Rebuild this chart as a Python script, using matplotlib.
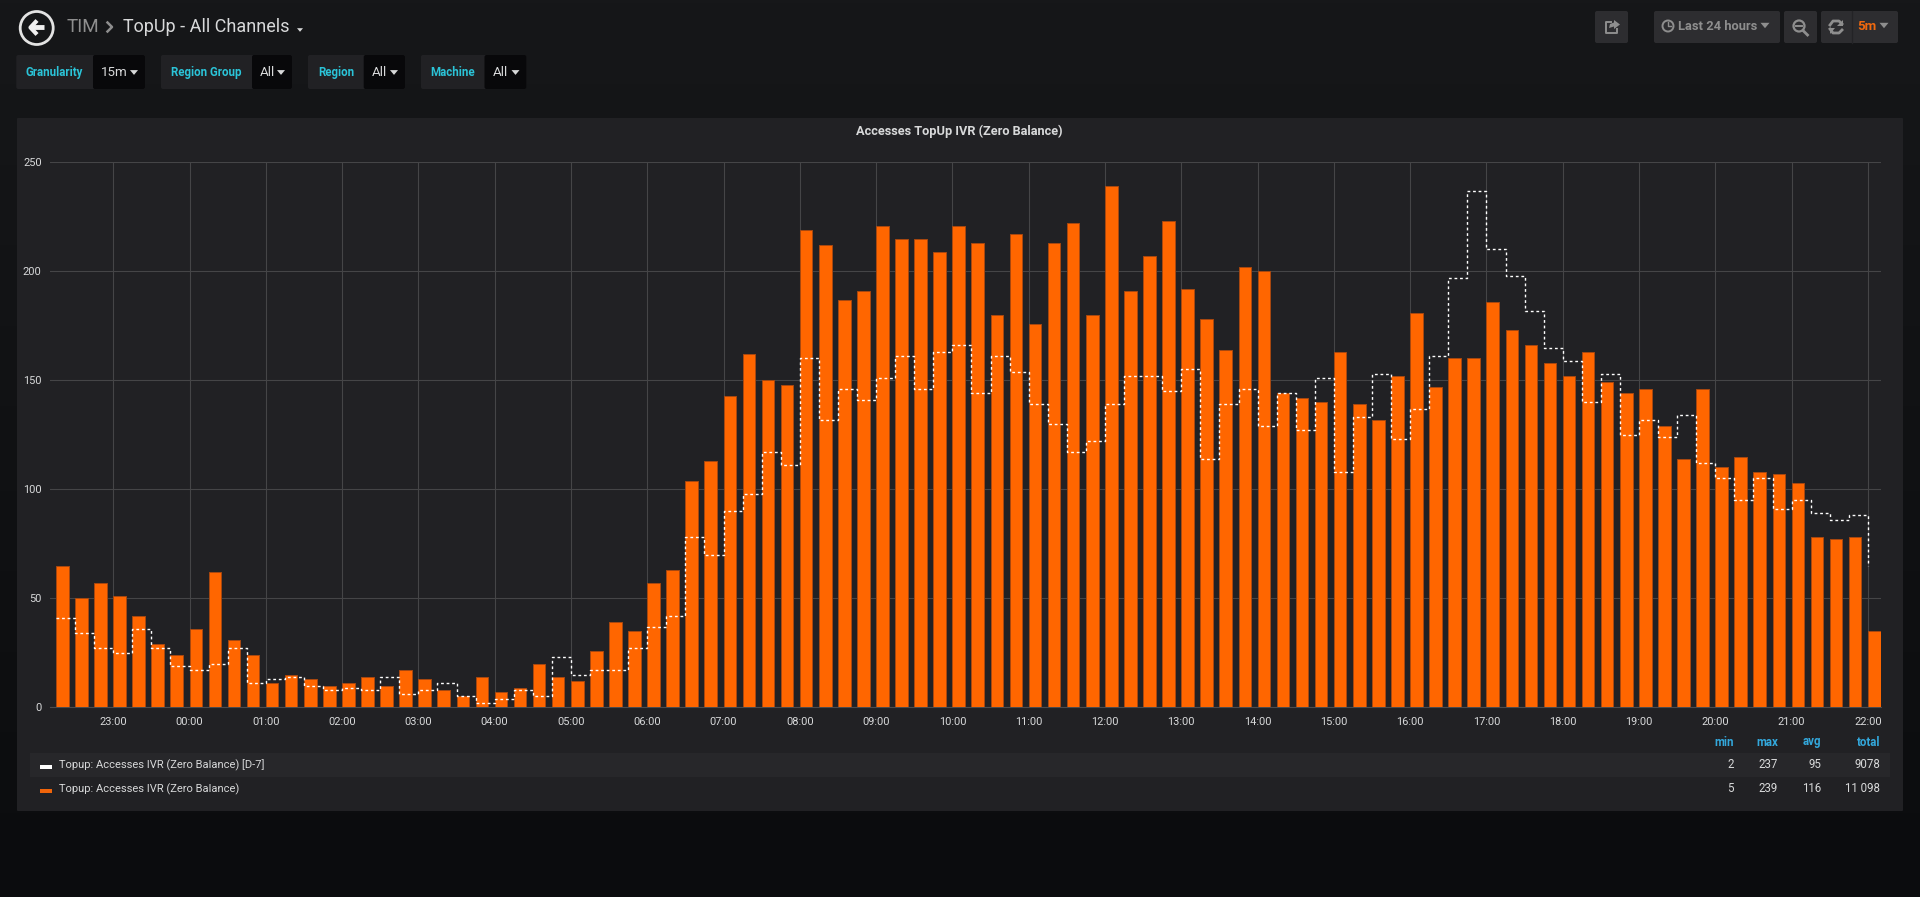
'''
Imports
'''
import numpy as np
import pandas as pd
import matplotlib
matplotlib.use('Agg')
import matplotlib.pyplot as plt
import matplotlib.dates as mdates
from matplotlib.patches import FancyBboxPatch, Polygon, Circle, Rectangle

plt.rcParams['font.family'] = ['Roboto', 'DejaVu Sans']

'''
Chart data, read off the picture (one value every 15 minutes, 22:15 to 22:00)
'''
Current = [65, 50, 57, 51, 42, 29, 24, 36, 62, 31, 24, 11,
	15, 13, 10, 11, 14, 10, 17, 13, 8, 5, 14, 7,
	9, 20, 14, 12, 26, 39, 35, 57, 63, 104, 113, 143,
	162, 150, 148, 219, 212, 187, 191, 221, 215, 215, 209, 221,
	213, 180, 217, 176, 213, 222, 180, 239, 191, 207, 223, 192,
	178, 164, 202, 200, 144, 142, 140, 163, 139, 132, 152, 181,
	147, 160, 160, 186, 173, 166, 158, 152, 163, 149, 144, 146,
	129, 114, 146, 110, 115, 108, 107, 103, 78, 77, 78, 35]
Previous = [41, 34, 27, 25, 36, 27, 19, 17, 20, 27, 11, 13,
	14, 10, 8, 9, 8, 14, 6, 8, 11, 5, 2, 4,
	8, 5, 23, 15, 17, 17, 27, 37, 42, 78, 70, 90,
	98, 117, 111, 160, 132, 146, 141, 151, 161, 146, 163, 166,
	144, 161, 154, 139, 130, 117, 122, 139, 152, 152, 145, 155,
	114, 139, 146, 129, 144, 127, 151, 108, 133, 153, 123, 137,
	161, 197, 237, 210, 198, 182, 165, 159, 140, 153, 125, 132,
	124, 134, 112, 105, 95, 105, 91, 95, 89, 86, 88, 65]
Y_Ticks = [0, 50, 100, 150, 200, 250]
Series_Names = ['Topup: Accesses IVR (Zero Balance) [D-7]', 'Topup: Accesses IVR (Zero Balance)']
Stat_Names = ['min', 'max', 'avg', 'total']
Stat_Rows = [['2', '237', '95', '9078'], ['5', '239', '116', '11 098']]
Variables = [('Granularity', '15m'), ('Region Group', 'All'), ('Region', 'All'), ('Machine', 'All')]

W, H = 1920, 897
Orange = '#ff6600'
Panel = '#212124'
Cyan = '#2bc4d8'
Blue = '#33a8dc'
Light = '#d8d9da'
Gray = '#8e8e8e'
Btn = '#2d2d30'

fig = plt.figure(figsize=(W/100, H/100), dpi=100)

'''
Page background and panel, in pixel coordinates
'''
bg = fig.add_axes([0, 0, 1, 1], zorder=0)
bg.set_xlim(0, W)
bg.set_ylim(H, 0)
bg.axis('off')
Grad = np.linspace(0, 1, 256).reshape(-1, 1)
Top, Bottom = np.array([0x16, 0x17, 0x19])/255, np.array([0x0b, 0x0c, 0x0e])/255
bg.imshow(Top + (Bottom-Top)*Grad[:, :, None], extent=(0, W, H, 0), aspect='auto', zorder=0)

def box(x0, x1, y0, y1, color, ax=bg, z=1, r=2):
	ax.add_patch(FancyBboxPatch((x0, y0), x1-x0, y1-y0, boxstyle='round,pad=0,rounding_size=%g' % r,
		fc=color, ec='none', zorder=z))

def caret(cx, cy, s, color):
	bg.add_patch(Polygon([(cx-s, cy-s*0.6), (cx+s, cy-s*0.6), (cx, cy+s*0.6)], fc=color, ec='none', zorder=4))

def label(x, y, s, size, color, ha='left', weight='normal'):
	bg.text(x, y, s, fontsize=size, color=color, ha=ha, va='center', fontweight=weight, zorder=5)

box(17, 1903, 118, 811, Panel, r=1)
bg.add_patch(Rectangle((30, 753), 1860, 24, fc='#27272a', ec='none', zorder=2))

'''
Header
'''
bg.add_patch(Circle((36.7, 28), 16.5, fc='none', ec='#e3e3e3', lw=2, zorder=4))
bg.plot([37, 30.5, 37], [20.5, 27.5, 34.5], color='#f0f0f0', lw=3, zorder=4, solid_capstyle='butt')
bg.plot([31, 44], [27.5, 27.5], color='#f0f0f0', lw=3.5, zorder=4, solid_capstyle='butt')
label(66.5, 27, 'TIM', 13.6, Gray)
bg.plot([107.5, 112, 107.5], [22.5, 27, 31.5], color=Gray, lw=1.8, zorder=4)
label(123, 27, 'TopUp - All Channels', 13, Light)
caret(300, 30, 3, Light)

Var_Boxes = [(16.3, 93, 145), (161, 252, 292), (308, 363.7, 405), (421, 484.5, 526.5)]
for (name, value), (x0, x1, x2) in zip(Variables, Var_Boxes):
	box(x0, x2, 55, 89, '#212124', z=2)
	box(x1, x2, 55, 89, '#08080a', z=3)
	label((x0+x1)/2, 72.5, name, 8.3, Cyan, ha='center', weight='bold')
	label(x1+8, 73, value, 9.6, Light)
	caret(x2-11, 72.5, 4, Light)

# top right buttons
for x0, x1 in [(1595, 1628), (1654, 1780), (1784, 1817), (1821, 1898)]:
	box(x0, x1, 11, 43, Btn, z=2)
bg.plot([1851.7, 1851.7], [11, 43], color='#232326', lw=1, zorder=3)
label(1678, 26.5, 'Last 24 hours', 9.3, Gray, weight='bold')
label(1857, 26.5, '5m', 9.6, '#f0690f', weight='bold')
caret(1765, 25.5, 4.5, Gray)
caret(1884, 25.5, 4.5, Gray)
# clock
bg.add_patch(Circle((1668, 26), 5.5, fc='none', ec=Gray, lw=1.4, zorder=4))
bg.plot([1668, 1668, 1671], [22.5, 26.5, 26.5], color=Gray, lw=1, zorder=4)
# magnifier
bg.add_patch(Circle((1799, 26), 5.5, fc='none', ec=Gray, lw=1.6, zorder=4))
bg.plot([1796, 1802], [26, 26], color=Gray, lw=1.4, zorder=4)
bg.plot([1803, 1807.5], [30.5, 35], color=Gray, lw=2, zorder=4)
# refresh
bg.plot([1830, 1833, 1839, 1842], [25, 21, 21, 24], color=Gray, lw=2, zorder=4)
bg.plot([1830, 1833, 1839, 1842], [29, 33, 33, 30], color=Gray, lw=2, zorder=4)
bg.add_patch(Polygon([(1842.5, 20), (1842.5, 26), (1837, 26)], fc=Gray, ec='none', zorder=4))
bg.add_patch(Polygon([(1829.5, 34), (1829.5, 28), (1835, 28)], fc=Gray, ec='none', zorder=4))
# share
bg.plot([1611, 1606, 1606, 1617, 1617], [22, 22, 33, 33, 29], color=Gray, lw=1.4, zorder=4)
bg.add_patch(Polygon([(1614, 20), (1620, 24.5), (1614, 29), (1614, 26.5), (1609, 28), (1610, 24), (1614, 22.5)],
	fc=Gray, ec='none', zorder=4))

'''
Graph
'''
Times = pd.date_range('2018-06-04 22:15', periods=len(Current), freq='15min')
Start = pd.Timestamp('2018-06-04 22:10:17')
ax = fig.add_axes([50/W, 1-707.3/H, (1881-50)/W, (707.3-162.3)/H], zorder=2)
ax.patch.set_alpha(0)
Bar_Width = pd.Timedelta(minutes=15)*0.66/pd.Timedelta(days=1)
ax.bar(Times, Current, width=Bar_Width, align='edge', color=Orange, edgecolor='#a8480f', linewidth=0.7, zorder=3)
ax.step(Times, Previous, where='post', color='white', lw=1, linestyle=(0, (2, 2)), zorder=4)
ax.set_xlim(Start, Start + pd.Timedelta(hours=24))
ax.set_ylim(0, 250)
ax.set_yticks(Y_Ticks)
ax.xaxis.set_major_locator(mdates.HourLocator())
ax.xaxis.set_major_formatter(mdates.DateFormatter('%H:%M'))
ax.grid(True, color='#454547', lw=0.8, zorder=1)
ax.set_axisbelow(True)
ax.tick_params(length=0, colors=Light, labelsize=7.9, pad=7)
ax.tick_params(axis='y', pad=6)
for s in ['top', 'right', 'left']:
	ax.spines[s].set_visible(False)
ax.spines['bottom'].set_color('#4b4b4d')
label(959, 131, 'Accesses TopUp IVR (Zero Balance)', 9.2, Light, ha='center', weight='bold')

'''
Legend
'''
Row_Y = [765, 789]
for name, y, c in zip(Series_Names, Row_Y, ['white', '#f0640a']):
	bg.add_patch(Rectangle((39.5, y+0.5), 12.5, 4, fc=c, ec='none', zorder=4))
	label(59, y, name, 8, Light)
Stat_X = [1734, 1778, 1821, 1880]
for s, x in zip(Stat_Names, Stat_X):
	label(x, 742, s, 8.3, Blue, ha='right', weight='bold')
for row, y in zip(Stat_Rows, Row_Y):
	for s, x in zip(row, Stat_X):
		label(x, y-1, s, 8.3, Light, ha='right')

plt.savefig('out.png', dpi=100)
